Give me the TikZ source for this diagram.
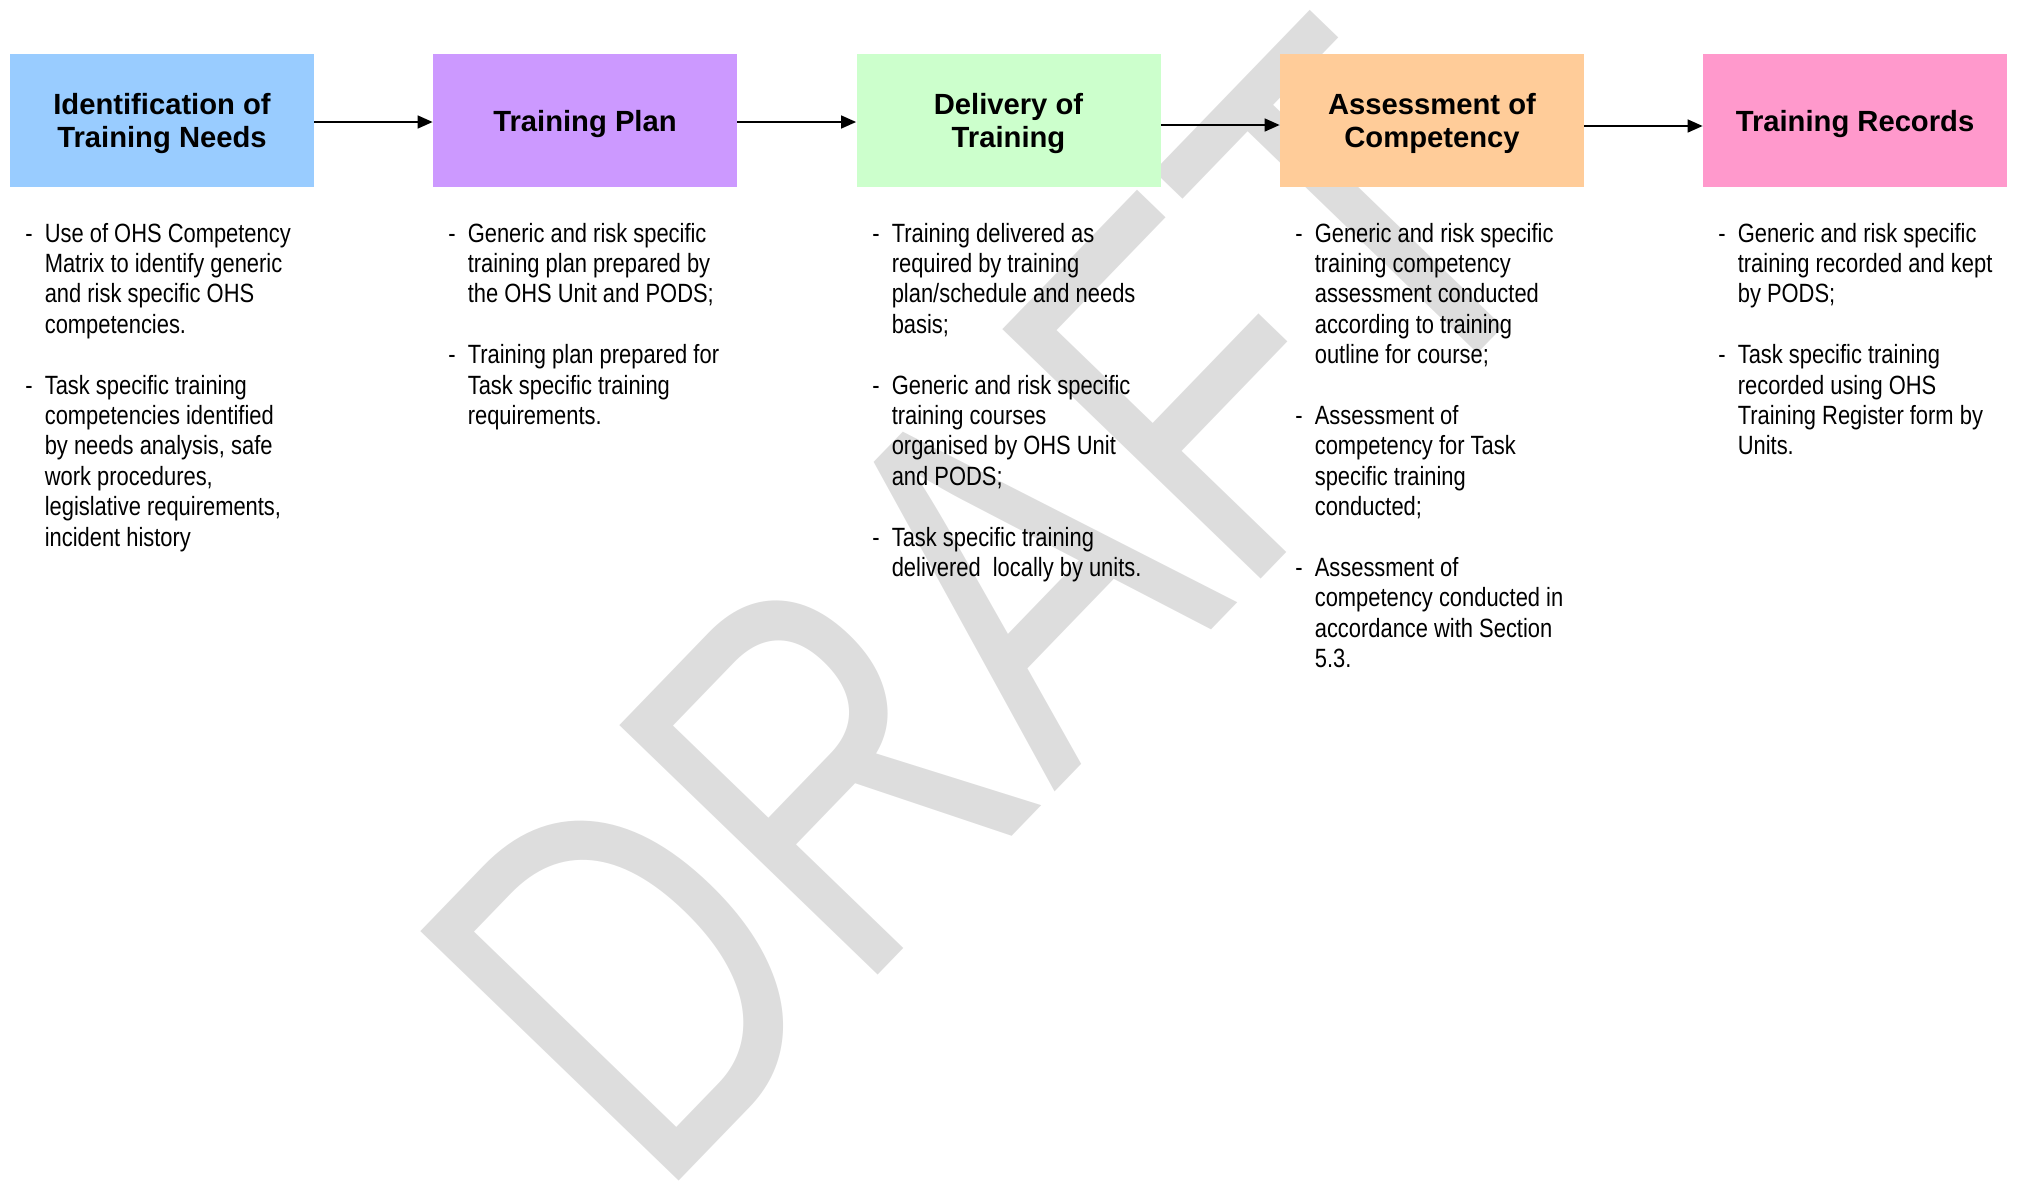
\documentclass[tikz,border=0pt]{standalone}
\usepackage{fontspec}
\setmainfont{Liberation Sans}
\newfontfamily\narrowfont[FakeStretch=0.83]{Liberation Sans}
\usepackage{graphicx}
\usetikzlibrary{arrows.meta}
\definecolor{boxblue}{HTML}{99CCFF}
\definecolor{boxviolet}{HTML}{CC99FF}
\definecolor{boxgreen}{HTML}{CCFFCC}
\definecolor{boxorange}{HTML}{FFCC99}
\definecolor{boxpink}{HTML}{FF99CC}
\definecolor{wmgray}{HTML}{DDDDDD}
\tikzset{
  stage/.style={minimum width=152pt, minimum height=66.5pt, inner sep=0pt,
    align=center, font=\bfseries\fontsize{14.6}{16.7}\selectfont},
  flow/.style={-{Triangle[length=7.5pt,width=6.5pt]}, line width=0.75pt, black},
  bullets/.style={anchor=base west, inner sep=0pt,
    font=\narrowfont\fontsize{13.2}{15.2}\selectfont},
  watermark/.style={anchor=base west, inner sep=0pt, text=wmgray,
    font=\fontsize{261}{261}\selectfont}
}
\newcommand{\blist}[1]{\begin{tabular}[t]{@{}p{9.7pt}@{}l@{}}#1\end{tabular}}
\newcommand{\ttl}[1]{\raisebox{-2pt}[\height][\depth]{\begin{tabular}{@{}c@{}}#1\end{tabular}}}
\begin{document}
\begin{tikzpicture}[x=0.5pt, y=-0.5pt]
\useasboundingbox (0,0) rectangle (2017,1189);
% watermark
\node[watermark, rotate=46] (wm) at (656,1205) {\scalebox{0.76}[1]{DRAFT}};
% stages
\node[stage, fill=boxblue]   (b1) at (162,120.5)  {\ttl{Identification of\\Training Needs}};
\node[stage, fill=boxviolet] (b2) at (585,120.5)  {\ttl{Training Plan}};
\node[stage, fill=boxgreen]  (b3) at (1008.5,120.5) {\ttl{Delivery of\\Training}};
\node[stage, fill=boxorange] (b4) at (1432,120.5) {\ttl{Assessment of\\Competency}};
\node[stage, fill=boxpink]   (b5) at (1855,120.5) {\ttl{Training Records}};
% arrows
\draw[flow] ([yshift=-0.75pt]b1.east) -- ([yshift=-0.75pt]b2.west);
\draw[flow] ([yshift=-0.75pt]b2.east) -- ([yshift=-0.75pt]b3.west);
\draw[flow] ([yshift=-2.25pt]b3.east) -- ([yshift=-2.25pt]b4.west);
\draw[flow] ([yshift=-2.75pt]b4.east) -- ([yshift=-2.75pt]b5.west);
% texts
\node[bullets] (t1) at (25,242) {\blist{
- & Use of OHS Competency\\
  & Matrix to identify generic\\
  & and risk specific OHS\\
  & competencies.\\
  & \\
- & Task specific training\\
  & competencies identified\\
  & by needs analysis, safe\\
  & work procedures,\\
  & legislative requirements,\\
  & incident history}};
\node[bullets] (t2) at (448,242) {\blist{
- & Generic and risk specific\\
  & training plan prepared by\\
  & the OHS Unit and PODS;\\
  & \\
- & Training plan prepared for\\
  & Task specific training\\
  & requirements.}};
\node[bullets] (t3) at (872,242) {\blist{
- & Training delivered as\\
  & required by training\\
  & plan/schedule and needs\\
  & basis;\\
  & \\
- & Generic and risk specific\\
  & training courses\\
  & organised by OHS Unit\\
  & and PODS;\\
  & \\
- & Task specific training\\
  & delivered\ \ locally by units.}};
\node[bullets] (t4) at (1295,242) {\blist{
- & Generic and risk specific\\
  & training competency\\
  & assessment conducted\\
  & according to training\\
  & outline for course;\\
  & \\
- & Assessment of\\
  & competency for Task\\
  & specific training\\
  & conducted;\\
  & \\
- & Assessment of\\
  & competency conducted in\\
  & accordance with Section\\
  & 5.3.}};
\node[bullets] (t5) at (1718,242) {\blist{
- & Generic and risk specific\\
  & training recorded and kept\\
  & by PODS;\\
  & \\
- & Task specific training\\
  & recorded using OHS\\
  & Training Register form by\\
  & Units.}};
\end{tikzpicture}
\end{document}
